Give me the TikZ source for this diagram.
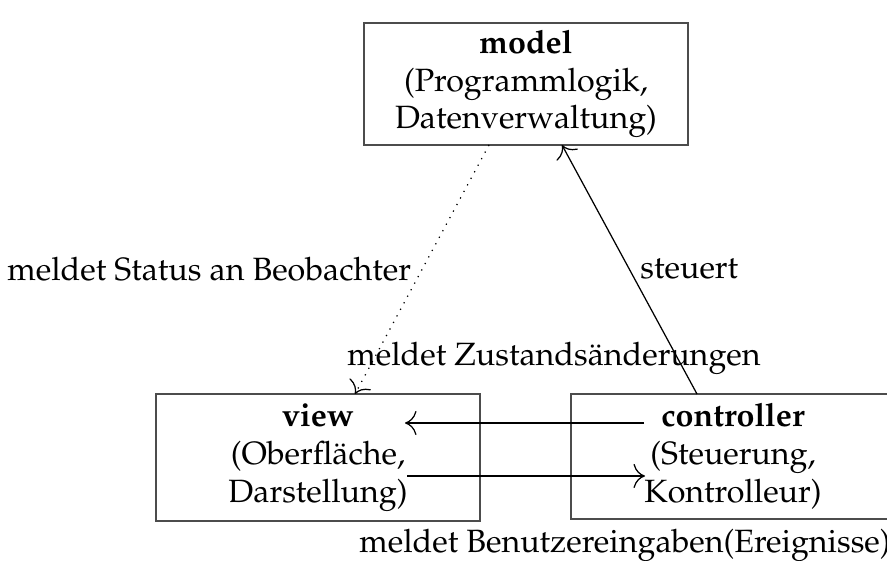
\documentclass[tikz,border=0pt]{standalone}
\usepackage[T1]{fontenc}
\renewcommand{\rmdefault}{ppl}
\usetikzlibrary{arrows.meta}
\begin{document}
\begin{tikzpicture}[x=0.3226pt, y=-0.3226pt, >={To[scale=1.5]},
  every node/.style={font=\fontsize{10.4pt}{12.2pt}\selectfont},
  box/.style={draw, black!70, text=black, align=center, inner sep=0pt},
  lbl/.style={inner sep=0pt}]
\useasboundingbox (0,0) rectangle (887,561);
\draw
(526, 84) node[box, minimum width=104.5pt, minimum height=39.4pt](model){\textbf{model}\\(Programmlogik,\\Datenverwaltung)}
(318, 457.5) node[box, minimum width=104.5pt, minimum height=41pt](view){\textbf{view}\\(Oberfl\"ache,\\Darstellung)}
(733, 456.5) node[box, minimum width=104.5pt, minimum height=40.3pt](ctrl){\textbf{controller}\\(Steuerung,\\Kontrolleur)};

\coordinate (ma) at (489, 145);
\coordinate (mb) at (562, 145);
\coordinate (va) at (355, 394);
\coordinate (vb) at (405, 423);
\coordinate (vc) at (407, 476);
\coordinate (ca) at (697, 394);
\coordinate (cb) at (644, 423);
\coordinate (cc) at (645, 476);

\draw[->, dotted] (ma) -- node[midway, left] {meldet Status an Beobachter} (va);
\draw[->] (ca) -- node[midway, right] {steuert} (mb);
\draw[->] (cb) -- (vb);
\draw[->] (vc) -- (cc);

\node[lbl](zust) at (554, 358) {meldet Zustands\"anderungen};
\node[lbl](benu) at (625, 545) {meldet Benutzereingaben(Ereignisse)};
\end{tikzpicture}
\end{document}
